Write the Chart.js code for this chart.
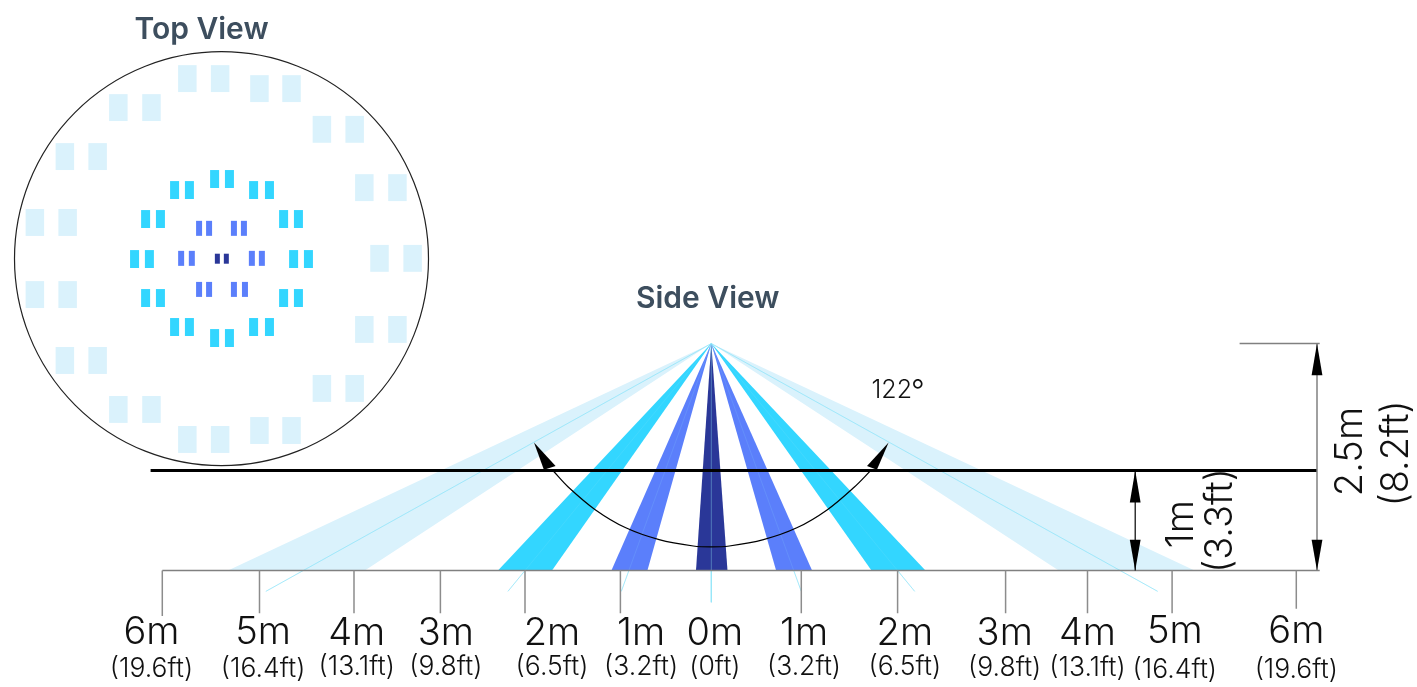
<!DOCTYPE html>
<html>
<head>
<meta charset="utf-8">
<title>Top View / Side View</title>
<script src="https://cdn.jsdelivr.net/npm/chart.js@4"></script>
<style>
  html, body { margin: 0; background: #fff; }
  canvas { display: block; }
</style>
</head>
<body>
<canvas id="coverage" width="1417" height="687"></canvas>
<script>
// ---- top view, metres from the centre of the circle ----
var topRadius = 6;
var lightY = [5.22, 4.93, 4.38, 3.75, 2.96, 2.06, 1.05, 0.01, -1.04, -2.05, -2.95, -3.76, -4.37, -4.98, -5.24];
var lightX = [[-0.99, -0.04], [1.10, 2.03], [-2.99, -2.03], [2.91, 3.86], [-4.54, -3.59], [4.14, 5.10], [-5.41, -4.46],
              [4.58, 5.54], [-5.41, -4.46], [4.14, 5.10], [-4.54, -3.59], [2.91, 3.86], [-2.99, -2.03], [1.10, 2.03], [-0.99, -0.04]];
var cyanY = [2.31, 1.99, 1.15, -0.01, -1.14, -1.98, -2.30];
var cyanX = [[-0.20, 0.23], [-1.36, -0.93, 0.93, 1.39], [-2.20, -1.77, 1.80, 2.23], [-2.52, -2.09, 2.09, 2.52],
             [-2.20, -1.77, 1.80, 2.23], [-1.36, -0.93, 0.93, 1.39], [-0.20, 0.23]];
var blueY = [0.88, 0.01, -0.89];
var blueX = [[-0.65, -0.36, 0.36, 0.65], [-1.17, -0.86, 0.88, 1.17], [-0.65, -0.36, 0.36, 0.68]];
var navyY = [0];
var navyX = [[-0.12, 0.14]];

// ---- side view, metres along the floor and above it ----
var sensorHeight = 2.5;
var planeHeight = 1.1;
var lightBeams = [[-5.37, -3.85], [3.86, 5.37]];
var cyanBeams = [[-2.37, -1.77], [1.78, 2.38]];
var blueBeams = [[-1.11, -0.71], [0.72, 1.12]];
var navyBeams = [[-0.17, 0.18]];
var rayEndX = [-4.95, -2.26, -1.0, 0, 1.0, 2.26, 4.96];
var rayEndY = [-0.23, -0.23, -0.23, -0.35, -0.23, -0.23, -0.23];
var tickX = [-6.10, -5.02, -3.97, -3.01, -2.07, -1.01, 1.00, 2.07, 3.27, 4.18, 5.12, 6.50];
var tickEnd = [-0.50, -0.47, -0.47, -0.47, -0.47, -0.47, -0.47, -0.47, -0.47, -0.47, -0.47, -0.42];
var arcX = [-1.75, -1.59, -1.29, -0.95, -0.58, -0.20, 0, 0.20, 0.58, 0.95, 1.29, 1.59, 1.77];
var arcY = [1.09, 0.92, 0.67, 0.47, 0.34, 0.27, 0.26, 0.27, 0.34, 0.47, 0.67, 0.92, 1.10];

// ---- labels under the floor line ----
var groundMain = ['6m', '5m', '4m', '3m', '2m', '1m', '0m', '1m', '2m', '3m', '4m', '5m', '6m'];
var groundSub = ['(19.6ft)', '(16.4ft)', '(13.1ft)', '(9.8ft)', '(6.5ft)', '(3.2ft)', '(0ft)', '(3.2ft)', '(6.5ft)', '(9.8ft)', '(13.1ft)', '(16.4ft)', '(19.6ft)'];
var groundLabelX = [-6.22, -4.98, -3.94, -2.95, -1.77, -0.78, 0.04, 1.03, 2.15, 3.26, 4.18, 5.15, 6.50];
var groundMainY = [-0.81, -0.81, -0.82, -0.82, -0.82, -0.82, -0.82, -0.82, -0.82, -0.82, -0.82, -0.80, -0.80];
var groundSubY = [-1.17, -1.17, -1.15, -1.15, -1.15, -1.15, -1.15, -1.15, -1.15, -1.16, -1.16, -1.18, -1.18];

var datasets = [];

function addLine(points, color, width, top, tension) {
  datasets.push({
    data: points,
    showLine: true,
    borderColor: color,
    borderWidth: width,
    pointRadius: 0,
    tension: tension || 0,
    xAxisID: top ? 'xTop' : 'x',
    yAxisID: top ? 'yTop' : 'y'
  });
}

function addShape(points, color) {
  // leftmost vertex first and rightmost last, the filler clips to that span
  points.sort(function (a, b) { return a.x - b.x; });
  datasets.push({
    data: points,
    showLine: true,
    fill: 'shape',
    backgroundColor: color,
    borderWidth: 0,
    pointRadius: 0
  });
}

function addCells(rowsY, rowsX, cellHeight, cellWidth, color) {
  rowsY.forEach(function (y, i) {
    rowsX[i].forEach(function (x) {
      addLine([{ x: x, y: y - cellHeight / 2 }, { x: x, y: y + cellHeight / 2 }], color, cellWidth, true);
    });
  });
}

function addBeams(beams, color) {
  beams.forEach(function (b) {
    addShape([{ x: b[0], y: 0 }, { x: b[1], y: 0 }, { x: 0, y: sensorHeight }], color);
  });
}

function addRays(color) {
  rayEndX.forEach(function (x, i) {
    addLine([{ x: 0, y: sensorHeight }, { x: x, y: rayEndY[i] }], color, 1);
  });
}

// datasets are listed from back to front and reversed below
addCells(lightY, lightX, 0.78, 18.5, '#daf2fc');
addCells(cyanY, cyanX, 0.52, 9, '#33d6ff');
addCells(blueY, blueX, 0.435, 6, '#5b7ffb');
addCells(navyY, navyX, 0.29, 5, '#2a3798');

datasets.push({
  data: [{ x: 0, y: 0 }],
  showLine: false,
  pointRadius: function (c) {
    var s = c.chart.scales.xTop;
    return s.getPixelForValue(topRadius) - s.getPixelForValue(0);
  },
  pointBackgroundColor: 'rgba(0,0,0,0)',
  pointBorderColor: '#222',
  pointBorderWidth: 1.2,
  xAxisID: 'xTop',
  yAxisID: 'yTop'
});

addBeams(lightBeams, '#daf2fc');
addRays('rgba(150,230,250,0.8)');
addBeams(cyanBeams, '#33d6ff');
addBeams(blueBeams, '#5b7ffb');
addBeams(navyBeams, '#2a3798');
addRays('rgba(150,230,250,0.15)');

addLine([{ x: tickX[0], y: 0 }, { x: 6.76, y: 0 }], '#808080', 1.5);
tickX.forEach(function (x, i) {
  addLine([{ x: x, y: 0 }, { x: x, y: tickEnd[i] }], '#8c8c8c', 1.5);
});

addLine([{ x: -6.23, y: planeHeight }, { x: 6.73, y: planeHeight }], '#000', 3);
addLine([{ x: 5.87, y: sensorHeight }, { x: 6.76, y: sensorHeight }], '#808080', 1.5);
addLine([{ x: 6.73, y: 0 }, { x: 6.73, y: sensorHeight }], '#808080', 1.5);
addLine([{ x: 4.71, y: 0 }, { x: 4.71, y: planeHeight }], '#000', 1.2);

addLine(arcX.map(function (x, i) { return { x: x, y: arcY[i] }; }), '#000', 1.2, false, 0.35);

// arrow heads
addShape([{ x: 6.67, y: 2.15 }, { x: 6.73, y: sensorHeight }, { x: 6.79, y: 2.15 }], '#000');
addShape([{ x: 6.67, y: 0.34 }, { x: 6.73, y: 0 }, { x: 6.79, y: 0.34 }], '#000');
addShape([{ x: 4.65, y: 0.75 }, { x: 4.71, y: planeHeight }, { x: 4.77, y: 0.75 }], '#000');
addShape([{ x: 4.65, y: 0.34 }, { x: 4.71, y: 0 }, { x: 4.77, y: 0.34 }], '#000');
addShape([{ x: -1.97, y: 1.41 }, { x: -1.73, y: 1.15 }, { x: -1.86, y: 1.11 }], '#000');
addShape([{ x: 1.97, y: 1.41 }, { x: 1.73, y: 1.15 }, { x: 1.84, y: 1.11 }], '#000');

// every label is placed through the scales
var labelPlugin = {
  id: 'labelPlugin',
  afterDraw: function (chart) {
    var c = chart.ctx, s = chart.scales;
    var labelFont = 'Inter, "Noto Sans", sans-serif';
    function put(text, x, y, font, color, align) {
      c.font = font;
      c.fillStyle = color;
      c.textAlign = align || 'center';
      c.textBaseline = 'alphabetic';
      c.fillText(text, x, y);
    }
    function putUp(text, x, y, font) {
      c.save();
      c.translate(s.x.getPixelForValue(x), s.y.getPixelForValue(y));
      c.rotate(-Math.PI / 2);
      put(text, 0, 0, font, '#111');
      c.restore();
    }
    c.save();
    put('Top View', s.xTop.getPixelForValue(-0.58), s.yTop.getPixelForValue(6.36), '600 30px Inter, sans-serif', '#3d4e5e');
    put('Side View', s.x.getPixelForValue(-0.04), s.y.getPixelForValue(2.89), '600 30px Inter, sans-serif', '#3d4e5e');

    var degX = s.x.getPixelForValue(1.78), degY = s.y.getPixelForValue(1.90);
    put('122', degX, degY, '300 25px ' + labelFont, '#111', 'left');
    var degW = c.measureText('122').width;
    put('°', degX + degW - 1, degY + 3, '300 30px ' + labelFont, '#111', 'left');

    groundMain.forEach(function (text, i) {
      var px = s.x.getPixelForValue(groundLabelX[i]);
      put(text, px, s.y.getPixelForValue(groundMainY[i]), '300 38px ' + labelFont, '#111');
      put(groundSub[i], px, s.y.getPixelForValue(groundSubY[i]), '300 26.5px ' + labelFont, '#111');
    });
    putUp('2.5m', 7.23, 1.31, '300 38px ' + labelFont);
    putUp('(8.2ft)', 7.74, 1.29, '300 38px ' + labelFont);
    putUp('1m', 5.35, 0.51, '300 38px ' + labelFont);
    putUp('(3.3ft)', 5.78, 0.55, '300 38px ' + labelFont);
    c.restore();
  }
};

new Chart(document.getElementById('coverage'), {
  type: 'scatter',
  data: { datasets: datasets.reverse() },
  plugins: [labelPlugin],
  options: {
    responsive: false,
    animation: false,
    events: [],
    layout: { padding: 0 },
    plugins: { legend: { display: false }, tooltip: { enabled: false }, title: { display: false } },
    scales: {
      // limits span the whole canvas, 90 x 90.8 px per metre for the side view
      x: { type: 'linear', display: false, min: -7.9033, max: 7.8411 },
      y: { type: 'linear', display: false, min: -1.283, max: 6.2831 },
      // 34.5 px per metre for the top view
      xTop: { type: 'linear', display: false, min: -6.4203, max: 34.6522 },
      yTop: { type: 'linear', display: false, min: -12.4145, max: 7.4986 }
    }
  }
});
</script>
</body>
</html>
